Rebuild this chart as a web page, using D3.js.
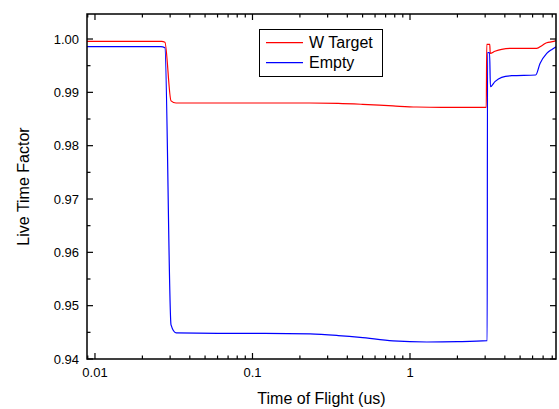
<!DOCTYPE html>
<html>
<head>
<meta charset="utf-8">
<script src="https://cdn.jsdelivr.net/npm/d3@7"></script>
<style>
  html, body { margin: 0; padding: 0; background: #fff; }
  svg { display: block; }
  text { font-family: "Liberation Sans", Arial, Helvetica, sans-serif; fill: #000; }
</style>
</head>
<body>
<svg id="chart" width="559" height="409"></svg>
<script>
// Live time factor vs time of flight for two runs
const seriesNames = ["W Target", "Empty"];
const seriesColors = ["#ff0000", "#0000ff"];

// time of flight (us)
const wTargetTime = [0.0089, 0.0265, 0.0278, 0.0304, 0.0327, 0.06, 0.12, 0.23, 0.35, 0.5, 0.78, 1.1, 1.6, 2.4, 3.05,
                     3.07, 3.21, 3.23, 3.46, 3.82, 4.42, 6.37, 6.9, 7.38, 8.0, 8.45];
const wTargetValue = [0.99955, 0.99955, 0.9994, 0.9884, 0.9880, 0.9880, 0.9880, 0.9880, 0.98793, 0.98775, 0.98745, 0.98725, 0.9872, 0.9872, 0.9872,
                      0.9990, 0.9990, 0.99732, 0.99770, 0.99807, 0.99825, 0.99825, 0.9988, 0.99931, 0.9995, 0.9997];

const emptyTime = [0.0089, 0.0262, 0.0278, 0.0304, 0.0327, 0.06, 0.12, 0.232, 0.35, 0.482, 0.78, 1.28, 2.0, 3.09,
                   3.105, 3.20, 3.24, 3.46, 3.82, 4.42, 6.28, 6.69, 7.38, 8.0, 8.45];
const emptyValue = [0.99856, 0.99856, 0.99835, 0.9464, 0.94490, 0.94482, 0.94482, 0.9447, 0.9444, 0.94407, 0.9434, 0.94319, 0.94325, 0.94343,
                    0.99743, 0.99743, 0.99105, 0.9920, 0.99282, 0.99312, 0.99325, 0.9954, 0.9973, 0.9981, 0.99856];

const xTickValues = [0.01, 0.1, 1];
const yTickValues = [0.94, 0.95, 0.96, 0.97, 0.98, 0.99, 1.00];

const svg = d3.select("#chart");
const plotLeft = 87, plotRight = 556, plotTop = 14, plotBottom = 359;

const x = d3.scaleLog().domain([0.0089, 8.45]).range([plotLeft, plotRight]);
const y = d3.scaleLinear().domain([0.94, 1.00469]).range([plotBottom, plotTop]);

// minor ticks: 2..9 within each decade
const xMinor = [];
[0.001, 0.01, 0.1, 1].forEach(d => { for (let k = 2; k <= 9; k++) { const v = d * k; if (v >= 0.0089 && v <= 8.45) xMinor.push(v); } });
const yMinor = d3.range(0, 13).map(i => 0.945 + i * 0.01).filter(v => v < 1.0047);

const majorLen = 6, minorLen = 3.5;
const tickG = svg.append("g").attr("stroke", "#000").attr("stroke-width", 1.2);

// bottom and top ticks, pointing inward
xTickValues.forEach(v => {
  tickG.append("line").attr("x1", x(v)).attr("x2", x(v)).attr("y1", plotBottom).attr("y2", plotBottom - majorLen);
  tickG.append("line").attr("x1", x(v)).attr("x2", x(v)).attr("y1", plotTop).attr("y2", plotTop + majorLen);
});
xMinor.forEach(v => {
  tickG.append("line").attr("x1", x(v)).attr("x2", x(v)).attr("y1", plotBottom).attr("y2", plotBottom - minorLen);
  tickG.append("line").attr("x1", x(v)).attr("x2", x(v)).attr("y1", plotTop).attr("y2", plotTop + minorLen);
});
// left and right ticks, pointing inward
yTickValues.forEach(v => {
  tickG.append("line").attr("x1", plotLeft).attr("x2", plotLeft + majorLen).attr("y1", y(v)).attr("y2", y(v));
  tickG.append("line").attr("x1", plotRight).attr("x2", plotRight - majorLen).attr("y1", y(v)).attr("y2", y(v));
});
yMinor.forEach(v => {
  tickG.append("line").attr("x1", plotLeft).attr("x2", plotLeft + minorLen).attr("y1", y(v)).attr("y2", y(v));
  tickG.append("line").attr("x1", plotRight).attr("x2", plotRight - minorLen).attr("y1", y(v)).attr("y2", y(v));
});

// tick labels
svg.append("g").selectAll("text").data(xTickValues).join("text")
  .attr("x", d => x(d)).attr("y", 377).attr("text-anchor", "middle")
  .attr("font-size", 13).text(d => d3.format("~g")(d));
svg.append("g").selectAll("text").data(yTickValues).join("text")
  .attr("x", 79).attr("y", d => y(d) + 4.5).attr("text-anchor", "end")
  .attr("font-size", 13).text(d => d3.format(".2f")(d));

// data lines
const line = d3.line().x(d => x(d[0])).y(d => y(d[1])).curve(d3.curveMonotoneX);
const plotG = svg.append("g");
const series = [
  d3.zip(wTargetTime, wTargetValue),
  d3.zip(emptyTime, emptyValue)
];
series.forEach((pts, i) => {
  plotG.append("path").datum(pts).attr("d", line)
    .attr("fill", "none").attr("stroke", seriesColors[i]).attr("stroke-width", 1.2);
});

// frame
svg.append("rect").attr("x", plotLeft).attr("y", plotTop).attr("width", plotRight - plotLeft).attr("height", plotBottom - plotTop)
  .attr("fill", "none").attr("stroke", "#000").attr("stroke-width", 1.5);

// axis titles
svg.append("text").attr("x", (plotLeft + plotRight) / 2).attr("y", 404).attr("text-anchor", "middle")
  .attr("font-size", 16).text("Time of Flight (us)");
svg.append("text").attr("transform", `translate(29,${(plotTop + plotBottom) / 2}) rotate(-90)`)
  .attr("text-anchor", "middle").attr("font-size", 16).text("Live Time Factor");

// legend
const lg = svg.append("g");
lg.append("rect").attr("x", 259.5).attr("y", 29.5).attr("width", 123).attr("height", 47)
  .attr("fill", "#fff").attr("stroke", "#000").attr("stroke-width", 1);
seriesNames.forEach((name, i) => {
  const yy = 42.7 + i * 20;
  lg.append("line").attr("x1", 266).attr("x2", 303).attr("y1", yy).attr("y2", yy)
    .attr("stroke", seriesColors[i]).attr("stroke-width", 1.2);
  lg.append("text").attr("x", 309).attr("y", yy + 5.5).attr("font-size", 16).text(name);
});
</script>
</body>
</html>
